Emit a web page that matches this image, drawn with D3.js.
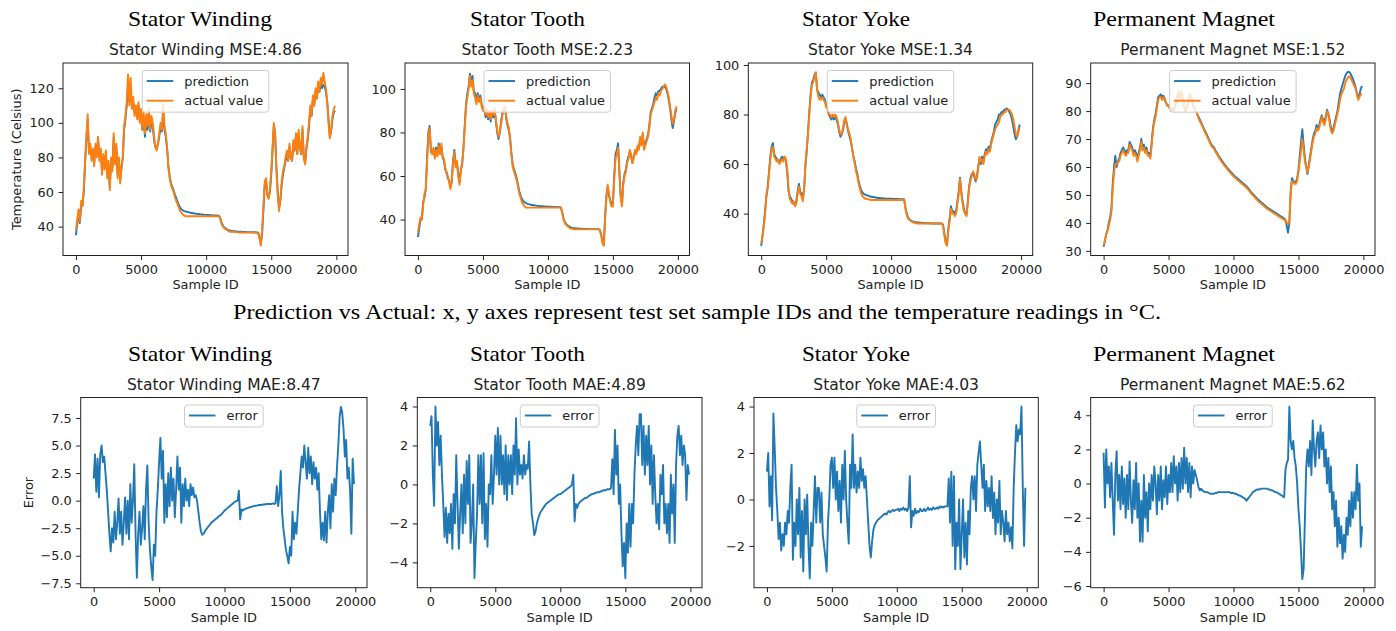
<!DOCTYPE html>
<html lang="en">
<head>
<meta charset="UTF-8">
<title>Prediction vs Actual</title>
<script src="https://cdn.jsdelivr.net/npm/d3@7"></script>
<style>
  body { margin: 0; background: #fff; }
  svg text { font-family: "DejaVu Sans", sans-serif; fill: #222; }
  svg text.serif { font-family: "Liberation Serif", serif; fill: #000; }
</style>
</head>
<body>
<svg id="chart" width="1396" height="631"></svg>
<script>
// sample IDs of the test set (one reading every 100 samples)
const sampleIds = d3.range(0, 20000, 100);
const xTicks = [0, 5000, 10000, 15000, 20000];

// Stator Winding
const swPred = [
  35, 42, 48, 42, 52, 52, 60, 76, 90, 102,
  84, 86, 80, 84, 77, 86, 82, 90, 80, 84,
  72, 80, 74, 82, 70, 76, 63, 78, 74, 92,
  78, 86, 70, 78, 67, 74, 80, 96, 102, 110,
  122, 112, 120, 110, 112, 106, 108, 104, 110, 102,
  104, 96, 102, 92, 100, 96, 104, 95, 100, 98,
  90, 86, 85, 88, 92, 98, 95, 106, 96, 92,
  85, 75, 69, 65, 63, 61, 58.5, 56.5, 54.5, 52.5,
  51, 50, 49.5, 49, 48.8, 48.6, 48.4, 48.2, 48, 47.8,
  47.7, 47.6, 47.5, 47.4, 47.3, 47.2, 47.1, 47, 46.9, 46.8,
  46.8, 46.7, 46.7, 46.6, 46.6, 46.5, 46.5, 46.5, 46.4, 46.4,
  46.2, 44.5, 42, 40.5, 39.5, 39, 38.5, 38, 37.8, 37.6,
  37.5, 37.4, 37.3, 37.2, 37.1, 37, 37, 37, 36.9, 36.9,
  36.9, 36.8, 36.8, 36.8, 36.8, 36.7, 36.7, 36.7, 36.7, 36.6,
  36.5, 34, 30, 36, 50, 64, 67, 58, 57, 60,
  70, 84, 99, 94, 74, 60, 51, 55, 64, 70,
  74, 78, 82, 78, 86, 80, 78, 88, 84, 92,
  82, 94, 86, 82, 96, 80, 77, 85, 90, 98,
  108, 104, 114, 110, 118, 114, 120, 118, 122, 120,
  122, 121, 118, 112, 102, 92, 95, 102, 106, 107
];
const swActual = [
  38, 44, 50, 43, 55, 52, 62, 78, 92, 105,
  82, 88, 78, 85, 75, 88, 80, 92, 78, 85,
  70, 82, 73, 84, 68, 78, 61, 80, 72, 94,
  76, 88, 68, 80, 65, 75, 80, 98, 104, 112,
  128, 110, 126, 108, 115, 104, 110, 102, 112, 100,
  108, 96, 106, 94, 105, 98, 108, 96, 104, 100,
  92, 86, 84, 88, 94, 100, 96, 111, 98, 94,
  86, 74, 68, 64, 62, 60, 57, 55, 53, 51,
  49, 48, 47, 46.5, 46, 46, 46, 46, 46, 46,
  46, 46, 46, 46, 46, 46, 46, 46, 46, 46,
  46, 46, 46, 46, 46, 46, 46, 46, 46, 46,
  46, 44, 41, 40, 39, 38.5, 38, 37.5, 37, 37,
  37, 37, 36.8, 36.8, 36.8, 36.6, 36.6, 36.6, 36.5, 36.5,
  36.5, 36.5, 36.5, 36.5, 36.5, 36.5, 36.5, 36.5, 36.5, 36.5,
  36, 33, 29, 38, 52, 66, 68, 58, 56, 62,
  72, 86, 100, 92, 72, 58, 49, 56, 66, 72,
  75, 80, 84, 78, 88, 80, 78, 90, 84, 94,
  82, 96, 86, 82, 98, 80, 76, 86, 92, 100,
  110, 104, 116, 110, 120, 114, 124, 118, 126, 122,
  129, 124, 120, 112, 100, 91, 96, 104, 108, 110
];

// Stator Tooth
const stPred = [
  32, 36, 40, 40, 48, 50, 54, 68, 80, 83,
  71, 71, 72, 69, 73, 70, 75, 71, 74, 69,
  67, 63, 62, 59, 58, 55, 57, 67, 72, 65,
  66, 61, 57, 63, 65, 73, 83, 93, 98, 101,
  107, 103, 106, 99, 98, 94, 98, 95, 97, 93,
  91, 91, 87, 90, 86, 89, 85, 89, 87, 90,
  85, 80, 77, 80, 85, 89, 91, 91, 86, 83,
  81, 77, 70, 65, 63, 61, 59, 56, 53, 51,
  49.5, 48.5, 48, 47.6, 47.3, 47.1, 47, 46.8, 46.7, 46.6,
  46.5, 46.4, 46.3, 46.2, 46.2, 46.1, 46.1, 46, 46, 46,
  45.9, 45.9, 45.9, 45.8, 45.8, 45.8, 45.8, 45.7, 45.7, 45.7,
  45.6, 43.5, 40.5, 39, 38, 37.4, 37, 36.6, 36.3, 36.1,
  36, 36, 35.9, 35.9, 35.8, 35.8, 35.8, 35.7, 35.7, 35.7,
  35.7, 35.7, 35.6, 35.6, 35.6, 35.6, 35.6, 35.6, 35.6, 35.6,
  35.2, 33, 30, 28.5, 41, 51, 55, 51, 49, 47,
  47, 60, 70, 72, 75, 62, 51, 47, 57, 61,
  63, 67, 69, 71, 69, 66, 69, 71, 71, 73,
  73, 77, 75, 79, 73, 75, 77, 79, 83, 89,
  91, 93, 96, 98, 97, 99, 99, 100, 101, 101,
  101, 100, 98, 95, 91, 86, 82, 85, 89, 91
];
const stActual = [
  34, 38, 41, 40, 46, 52, 53, 66, 78, 82,
  72, 70, 73, 68, 72, 69, 74, 70, 75, 68,
  68, 64, 61, 60, 57, 54, 58, 66, 71, 64,
  67, 60, 56, 62, 66, 72, 82, 92, 96, 100,
  106, 101, 104, 98, 96, 93, 97, 94, 96, 92,
  90, 92, 88, 91, 87, 90, 86, 90, 88, 91,
  86, 81, 78, 80, 84, 88, 90, 92, 87, 84,
  82, 76, 69, 64, 62, 60, 58, 55, 52, 50,
  48, 47, 46, 45.5, 45.5, 45.5, 45.5, 45.5, 45.5, 45.5,
  45.5, 45.5, 45.5, 45.5, 45.5, 45.5, 45.5, 45.5, 45.5, 45.5,
  45.5, 45.5, 45.5, 45.5, 45.5, 45.5, 45.5, 45.5, 45.5, 45.5,
  45.5, 43, 40, 38.5, 37.5, 37, 36.5, 36, 35.8, 35.6,
  35.5, 35.5, 35.5, 35.5, 35.5, 35.5, 35.5, 35.5, 35.5, 35.5,
  35.5, 35.5, 35.5, 35.5, 35.5, 35.5, 35.5, 35.5, 35.5, 35.5,
  35, 33, 29, 28, 40, 50, 56, 52, 48, 46,
  46, 58, 68, 70, 73, 62, 50, 46, 56, 60,
  62, 66, 68, 72, 70, 66, 68, 72, 70, 74,
  72, 78, 74, 80, 72, 74, 76, 78, 82, 88,
  90, 92, 94, 96, 95, 98, 97, 99, 100, 101,
  102, 101, 99, 96, 92, 88, 84, 86, 90, 92
];

// Stator Yoke
const syPred = [
  27, 31, 36, 41, 47, 51, 57, 63, 67, 68.5,
  64, 63, 62, 61, 61, 62, 63, 62, 63, 61,
  57, 49, 47, 46, 45, 44, 44, 45, 49, 52,
  49, 48, 46, 50, 59, 65, 73, 81, 88, 93,
  94, 96, 97, 90, 89, 88, 87, 88, 87, 86,
  84, 83, 80, 79, 78, 79, 78, 79, 78, 76,
  73, 71, 72, 74, 77, 78, 76, 73, 71, 69,
  66, 63, 61, 58, 56, 53, 51, 49.5, 48.5, 48,
  47.7, 47.5, 47.3, 47.1, 46.9, 46.8, 46.7, 46.6, 46.5, 46.4,
  46.3, 46.3, 46.2, 46.2, 46.1, 46.1, 46, 46, 46, 46,
  46, 46, 45.9, 45.9, 45.9, 45.9, 45.8, 45.8, 45.8, 45.8,
  45.8, 42.5, 40, 38.5, 37.8, 37.3, 37, 36.8, 36.6, 36.5,
  36.4, 36.4, 36.3, 36.3, 36.2, 36.2, 36.2, 36.1, 36.1, 36.1,
  36.1, 36, 36, 36, 36, 36, 36, 36, 36, 36,
  35.5, 32, 28.5, 27.5, 34, 38, 43, 41, 41, 40,
  41, 45, 49, 54.5, 49, 45, 42, 40, 39.5, 45,
  51, 54, 56, 56, 55, 53, 55, 59, 62, 60,
  63, 61, 64, 66, 65, 67, 66, 69, 71, 73,
  76, 77, 78, 80, 80, 81, 81, 82, 82, 82.5,
  82, 81, 80, 78, 75, 72, 70, 71, 74, 76
];
const syActual = [
  28, 31, 35, 40, 48, 50, 56, 62, 66, 67,
  63, 62, 61, 62, 60, 61, 62, 61, 63, 62,
  58, 50, 46, 45, 44, 45, 43, 44, 48, 51,
  48, 47, 45, 50, 60, 66, 72, 80, 87, 92,
  93, 95, 97, 90, 87, 86, 86, 87, 86, 85,
  83, 82, 80, 80, 79, 80, 79, 80, 79, 77,
  74, 72, 72, 75, 78, 79, 75, 74, 72, 70,
  66, 63, 60, 57, 55, 52, 50, 48, 47, 46.5,
  46, 46, 45.8, 45.7, 45.6, 45.5, 45.5, 45.5, 45.5, 45.5,
  45.5, 45.5, 45.5, 45.5, 45.5, 45.5, 45.5, 45.5, 45.5, 45.5,
  45.5, 45.5, 45.5, 45.5, 45.5, 45.5, 45.5, 45.5, 45.5, 45.5,
  45.5, 42, 39.5, 38, 37.5, 37, 36.8, 36.5, 36.3, 36.2,
  36, 36, 36, 36, 36, 36, 36, 36, 36, 36,
  36, 36, 36, 36, 36, 36, 36, 36, 36, 36,
  35, 31, 28, 27, 33, 37, 42, 40, 40, 39,
  40, 44, 48, 54, 48, 44, 41, 40, 39, 44,
  50, 53, 55, 57, 56, 54, 54, 58, 63, 61,
  62, 60, 63, 65, 64, 66, 65, 68, 70, 72,
  74, 75, 76, 77, 79, 80, 80, 81, 81, 82,
  82, 82, 81, 80, 78, 75, 72, 71, 73, 75
];

// Permanent Magnet
const pmPred = [
  31.5, 33.5, 36, 37.5, 40, 42, 45, 54, 60, 64,
  60, 62, 63, 65, 66, 67, 66, 65, 66, 66,
  69, 68, 67, 65, 66, 65, 63, 65, 67, 70,
  67, 68, 66, 67, 65, 65, 64, 69, 74, 77,
  79, 82, 85, 85.5, 86, 85, 85.5, 84.5, 83, 82,
  82, 81, 80, 81, 80, 82, 83, 85, 86, 84,
  86, 84, 82, 80, 81, 83, 85, 85.5, 84, 82,
  81, 80, 79, 78, 77, 76, 75, 74, 73, 72,
  71, 70, 69, 68, 67.5, 67, 66, 65.3, 64.5, 63.7,
  63, 62.3, 61.6, 61, 60.4, 59.8, 59.3, 58.7, 58.2, 57.7,
  57.2, 56.7, 56.3, 55.9, 55.5, 55.1, 54.7, 54.3, 53.9, 53.5,
  53.1, 52.6, 52, 51.4, 50.8, 50.3, 49.8, 49.3, 48.8, 48.3,
  47.9, 47.5, 47.1, 46.7, 46.3, 45.9, 45.5, 45.2, 44.9, 44.6,
  44.3, 44, 43.7, 43.4, 43.1, 42.8, 42.5, 42.2, 41.9, 41.6,
  41, 39, 36.5, 40, 51, 56, 55, 54.5, 54.5, 56,
  59, 64, 69, 73.5, 68, 63, 60, 57.5, 61, 64,
  67, 70, 72, 73, 75, 74, 75, 77, 78.5, 77,
  76, 78, 80.5, 79, 77, 74, 72.5, 74, 76, 78,
  80, 83, 86, 88, 89.5, 91, 92.5, 93.5, 94, 94,
  93.5, 92.5, 91.5, 90, 88.5, 86.5, 84.5, 86, 88, 89
];
const pmActual = [
  32, 34, 36, 37, 39, 41, 44, 52, 58, 61,
  61, 62, 62, 64, 65, 66, 65, 64, 65, 65,
  68, 67, 66, 64, 65, 64, 62, 64, 66, 69,
  66, 67, 65, 66, 64, 64, 63, 68, 73, 76,
  78, 81, 84, 85, 85, 84, 85, 84, 83, 82,
  82, 81, 80, 81, 80, 82, 84, 86, 87, 84,
  87, 84, 82, 80, 81, 83, 86, 86, 84, 82,
  81, 80, 79, 77.5, 76.5, 75.5, 74.5, 73.5, 72.5, 71.5,
  70.5, 69.5, 68.5, 67.5, 67, 66.5, 65.5, 64.8, 64, 63.2,
  62.5, 61.8, 61.1, 60.5, 59.9, 59.3, 58.8, 58.2, 57.7, 57.2,
  56.7, 56.2, 55.8, 55.4, 55, 54.6, 54.2, 53.8, 53.4, 53,
  52.6, 52.1, 51.5, 50.9, 50.3, 49.8, 49.3, 48.8, 48.3, 47.8,
  47.4, 47, 46.6, 46.2, 45.8, 45.4, 45, 44.7, 44.4, 44.1,
  43.8, 43.5, 43.2, 42.9, 42.6, 42.3, 42, 41.7, 41.4, 41.1,
  40.8, 40.2, 39.5, 40.5, 50, 55, 54.5, 54, 54, 55,
  58, 62, 66, 70, 66, 62, 60, 58, 60, 63,
  66, 69, 71, 72, 74, 73, 74, 76, 78, 76,
  75, 77, 80, 79, 76, 73, 72, 73, 75, 77,
  79, 81, 84, 86, 87, 88, 90, 91, 92, 92.5,
  92, 91, 90, 89, 88, 86, 84, 85, 86, 86
];

// errors
const swError = [
  2.0, 4.2, 0.8, 3.8, 0.3, 4.2, 5.0, 3.5, 4.0, 2.5,
  1.0, -1.0, -3.0, -4.6, -2.5, -3.8, -1.0, -3.5, -2.0, 0.2,
  -3.0, -1.0, -4.0, -2.0, 0.3, -3.0, 0.0, -3.5, 1.5, -2.0,
  0.0, 3.3, -3.0, -7.0, -3.0, -1.0, -4.0, -2.5, -0.5, -3.5,
  1.0, 3.2, -2.0, -4.5, -6.0, -7.2, -4.0, -5.0, -1.0, 1.0,
  3.5, 5.7, 2.0, 4.5, -2.0, 1.5, -1.5, 2.5, -0.5, 3.0,
  0.0, 2.0, -1.5, 1.0, 4.0, 1.0, 3.0, -2.0, 1.5, -0.5,
  2.0, 0.0, 1.0, -0.5, 1.5, 0.5, 1.2, 0.3, 0.5, 0.0,
  -1.0, -2.0, -2.8, -3.1, -3.0, -2.8, -2.6, -2.45, -2.3, -2.15,
  -2.0, -1.9, -1.8, -1.7, -1.6, -1.5, -1.4, -1.3, -1.2, -1.05,
  -0.9, -0.8, -0.7, -0.6, -0.5, -0.4, -0.3, -0.2, -0.1, -0.05,
  0.0, 0.9, -1.7, -0.8, -0.9, -0.8, -0.75, -0.7, -0.65, -0.6,
  -0.6, -0.55, -0.5, -0.5, -0.45, -0.45, -0.4, -0.4, -0.4, -0.35,
  -0.35, -0.35, -0.3, -0.3, -0.3, -0.3, -0.3, -0.25, -0.3, -0.25,
  1.3, -0.5, 0.5, 2.7, -1.0, -2.5, -3.5, -4.5, -5.0, -5.7,
  -4.2, -5.0, -1.0, -3.5, -2.0, -3.0, -1.0, 1.0, 2.5, 4.0,
  3.0, 5.0, 3.5, 2.0, 4.8, 2.5, 4.0, 1.5, 3.5, 2.0,
  3.0, 1.0, 2.5, -1.0, -3.5, -2.0, -3.6, -1.0, -3.8, -1.0,
  0.5, -2.5, 1.5, -1.0, 2.0, 0.5, 3.0, 5.0, 7.5, 8.5,
  8.0, 6.5, 4.0, 5.5, 2.0, 3.0, 1.0, -3.0, 3.8, 1.5
];
const stError = [
  3.0, 3.5, 0.5, -1.1, 4.0, 2.0, 3.2, 1.0, 2.5, 0.5,
  -1.0, -2.7, -1.2, -3.0, -1.5, -2.5, -1.0, -3.3, -0.5, -2.0,
  1.5, -1.0, -3.3, -1.5, 0.0, -2.5, 0.5, -2.0, 1.2, -1.0,
  1.5, -3.0, -2.0, 0.0, -4.8, -3.0, -1.5, 1.5, -1.0, 1.5,
  -2.0, 1.6, -2.8, -1.0, -3.2, 0.0, -0.5, 1.5, -1.0, 0.5,
  2.5, 0.5, 2.9, 0.0, 2.5, 0.0, 1.5, -0.5, 2.0, -0.8,
  1.5, 0.0, 1.5, -0.5, 2.0, 0.5, 3.4, 0.0, 1.8, 0.5,
  1.0, 0.3, 1.5, 0.5, 1.0, 0.8, 2.2, 0.0, -1.5, -2.0,
  -2.6, -2.4, -2.0, -1.75, -1.55, -1.4, -1.3, -1.2, -1.1, -1.0,
  -0.95, -0.9, -0.85, -0.8, -0.75, -0.7, -0.65, -0.6, -0.55, -0.5,
  -0.5, -0.45, -0.4, -0.35, -0.3, -0.25, -0.2, -0.15, -0.1, 0.0,
  0.5, -1.9, -1.0, -1.2, -1.0, -0.9, -0.85, -0.8, -0.75, -0.7,
  -0.7, -0.65, -0.6, -0.55, -0.5, -0.5, -0.45, -0.45, -0.4, -0.4,
  -0.4, -0.35, -0.35, -0.3, -0.3, -0.3, -0.25, -0.25, -0.25, -0.2,
  1.3, -0.5, 2.8, 0.5, 2.0, -1.0, 0.0, -2.5, -4.2, -3.0,
  -4.8, -2.0, -3.5, -1.0, -3.2, -1.0, -2.0, 0.5, 2.0, 3.0,
  1.5, 3.6, 3.6, 1.0, 3.0, 0.5, 2.5, 1.0, 3.0, 0.0,
  2.0, -1.0, 1.5, -0.5, -2.0, -1.0, -2.3, 0.5, -0.5, 1.0,
  -2.0, -1.0, -2.5, -1.0, -3.0, 0.5, -1.5, 0.0, -3.0, 1.0,
  2.5, 3.0, 1.5, 2.5, 1.0, 2.0, 1.5, -0.8, 1.0, 0.5
];
const syError = [
  1.2, 2.0, -0.3, 1.0, -0.9, 3.7, 2.2, 0.5, -0.5, -1.7,
  -1.0, -2.2, -1.5, -2.0, -1.0, -1.5, -0.5, -1.0, 0.5, 1.5,
  -2.6, -1.0, -2.0, 0.0, -1.5, 0.5, -2.5, -0.5, -3.1, 0.0,
  -1.5, 0.2, -2.0, -3.4, -1.0, -2.0, -0.5, 1.0, -1.0, 0.5,
  0.5, -1.0, 0.3, -1.5, -2.0, -2.5, -3.1, -1.0, 0.0, 1.5,
  1.8, 0.5, 1.8, 0.0, 1.2, -0.5, 0.8, -1.0, 1.5, 0.0,
  2.1, 0.0, -1.0, -1.9, 1.5, 0.5, 2.8, 0.5, 1.5, 0.3,
  1.2, 0.5, 1.8, 0.8, 1.3, 0.5, 1.0, 0.0, -1.0, -2.0,
  -2.5, -1.8, -1.3, -1.1, -1.0, -0.9, -0.85, -0.8, -0.75, -0.7,
  -0.65, -0.6, -0.65, -0.55, -0.5, -0.55, -0.5, -0.45, -0.5, -0.45,
  -0.45, -0.4, -0.5, -0.4, -0.45, -0.35, -0.45, -0.4, -0.5, -0.35,
  1.0, -1.2, -0.5, -0.7, -0.4, -0.6, -0.5, -0.55, -0.4, -0.5,
  -0.5, -0.4, -0.5, -0.45, -0.35, -0.45, -0.4, -0.45, -0.35, -0.4,
  -0.4, -0.35, -0.4, -0.3, -0.35, -0.3, -0.35, -0.3, -0.3, -0.3,
  0.9, -1.0, 1.2, -2.0, 1.0, -3.0, -1.0, -2.0, 0.0, -3.0,
  -1.5, 0.0, -2.5, -1.0, -2.8, -0.5, -1.5, 0.5, 1.0, 0.0,
  1.0, -0.5, 1.5, 2.0, 2.5, 1.5, 0.5, 1.5, -0.5, 0.8,
  -0.3, 0.5, -0.5, 1.0, -0.8, 0.3, -1.5, 0.0, -1.0, 0.8,
  -1.5, -0.5, -1.0, -1.8, -0.5, -1.5, -1.0, -1.8, -1.2, -2.1,
  0.5, 2.0, 3.2, 2.5, 3.0, 2.8, 4.0, 0.5, -2.0, 0.5
];
const pmError = [
  1.8, -1.4, 2.0, 0.0, 1.0, -0.8, 1.2, -1.0, -3.0, 0.5,
  1.9, -1.0, 0.5, -1.5, 1.0, -1.2, 0.3, -2.0, 0.5, -1.5,
  1.3, -1.0, -2.3, 0.2, -1.5, 1.2, -2.0, 0.0, -3.4, -1.0,
  -3.4, 0.5, -2.0, -0.5, -2.8, 0.0, -1.5, 0.5, -1.0, 1.0,
  0.0, -1.8, 0.5, -1.0, 1.0, -1.5, 0.2, -0.8, 1.0, -1.2,
  0.5, -0.5, 1.2, -0.5, 1.6, 0.0, 1.0, -1.0, 1.2, -0.5,
  1.5, -0.3, 2.1, 0.0, 1.5, -0.5, 1.2, -0.8, 1.0, 0.0,
  0.8, 0.5, 0.2, -0.2, -0.4, -0.3, -0.4, -0.45, -0.5, -0.5,
  -0.5, -0.55, -0.6, -0.6, -0.6, -0.6, -0.55, -0.55, -0.5, -0.5,
  -0.5, -0.5, -0.5, -0.5, -0.5, -0.5, -0.5, -0.5, -0.55, -0.55,
  -0.55, -0.6, -0.6, -0.65, -0.7, -0.7, -0.75, -0.8, -0.85, -0.9,
  -1.0, -0.9, -0.8, -0.7, -0.6, -0.5, -0.45, -0.4, -0.35, -0.35,
  -0.35, -0.3, -0.3, -0.3, -0.3, -0.3, -0.3, -0.35, -0.35, -0.4,
  -0.4, -0.45, -0.5, -0.5, -0.55, -0.6, -0.65, -0.7, -0.75, -0.8,
  0.8, 1.2, 1.4, 4.5, 2.5, 2.0, 2.5, 1.5, 1.0, 0.0,
  -1.5, -2.5, -4.0, -5.6, -5.0, -2.0, 1.0, 2.0, 1.0, 2.5,
  0.5, 3.7, 2.0, 1.0, 2.5, 3.0, 1.5, 3.4, 2.0, 3.0,
  1.0, 2.0, 0.0, 1.5, -0.5, 1.0, -1.5, -0.5, -2.5, -1.0,
  -3.7, -2.0, -3.5, -2.5, -4.4, -3.0, -4.0, -2.0, -3.0, -1.0,
  -2.5, -0.5, -2.0, -0.5, -1.5, 1.1, -1.0, 0.0, -3.7, -2.5
];

const parts = ["Stator Winding", "Stator Tooth", "Stator Yoke", "Permanent Magnet"];
const mseValues = ["4.86", "2.23", "1.34", "1.52"];
const maeValues = ["8.47", "4.89", "4.03", "5.62"];

const BLUE = "#1f77b4", ORANGE = "#ff7f0e";

const svg = d3.select("#chart");

// headers above each column
const headerX = [200, 527.5, 856, 1184];
const headerW = [144, 115, 108, 182];
[26, 361].forEach(y => {
    parts.forEach((p, i) => {
        svg.append("text").attr("class", "serif")
            .attr("x", headerX[i]).attr("y", y)
            .attr("text-anchor", "middle")
            .attr("font-size", 22)
            .attr("textLength", headerW[i]).attr("lengthAdjust", "spacingAndGlyphs")
            .text(p);
    });
});

svg.append("text").attr("class", "serif")
    .attr("x", 697).attr("y", 319)
    .attr("text-anchor", "middle")
    .attr("font-size", 21)
    .attr("textLength", 928).attr("lengthAdjust", "spacingAndGlyphs")
    .text("Prediction vs Actual: x, y axes represent test set sample IDs and the temperature readings in °C.");

const panels = [
    { x0: 63, x1: 348, y0: 63, y1: 255.5, dom: [23.3, 134.6], ticks: [40, 60, 80, 100, 120],
      title: parts[0] + " MSE:" + mseValues[0], ylabel: "Temperature (Celsius)",
      series: [{ v: swPred, c: BLUE, n: "prediction" }, { v: swActual, c: ORANGE, n: "actual value" }] },
    { x0: 405, x1: 689.5, y0: 63, y1: 255.5, dom: [23.5, 111.9], ticks: [40, 60, 80, 100],
      title: parts[1] + " MSE:" + mseValues[1],
      series: [{ v: stPred, c: BLUE, n: "prediction" }, { v: stActual, c: ORANGE, n: "actual value" }] },
    { x0: 748.3, x1: 1032.7, y0: 63, y1: 255.5, dom: [23.1, 100.8], ticks: [40, 60, 80, 100],
      title: parts[2] + " MSE:" + mseValues[2],
      series: [{ v: syPred, c: BLUE, n: "prediction" }, { v: syActual, c: ORANGE, n: "actual value" }] },
    { x0: 1090.7, x1: 1375, y0: 63, y1: 255.5, dom: [28.35, 97.2], ticks: [30, 40, 50, 60, 70, 80, 90],
      title: parts[3] + " MSE:" + mseValues[3],
      series: [{ v: pmPred, c: BLUE, n: "prediction" }, { v: pmActual, c: ORANGE, n: "actual value" }] },
    { x0: 80.7, x1: 367, y0: 397.5, y1: 587.7, dom: [-7.9, 9.36], ticks: [-7.5, -5, -2.5, 0, 2.5, 5, 7.5], fmt: ".1f",
      title: parts[0] + " MAE:" + maeValues[0], ylabel: "Error",
      series: [{ v: swError, c: BLUE, n: "error" }] },
    { x0: 417.3, x1: 702, y0: 397.5, y1: 587.7, dom: [-5.3, 4.46], ticks: [-4, -2, 0, 2, 4],
      title: parts[1] + " MAE:" + maeValues[1],
      series: [{ v: stError, c: BLUE, n: "error" }] },
    { x0: 754, x1: 1038.3, y0: 397.5, y1: 587.7, dom: [-3.8, 4.39], ticks: [-2, 0, 2, 4],
      title: parts[2] + " MAE:" + maeValues[2],
      series: [{ v: syError, c: BLUE, n: "error" }] },
    { x0: 1090.7, x1: 1375, y0: 397.5, y1: 587.7, dom: [-6.1, 5.04], ticks: [-6, -4, -2, 0, 2, 4, 6].slice(0, 6),
      title: parts[3] + " MAE:" + maeValues[3],
      series: [{ v: pmError, c: BLUE, n: "error" }] }
];

panels.forEach((p, k) => {
    const x = d3.scaleLinear().domain([-995, 20895]).range([p.x0, p.x1]);
    const y = d3.scaleLinear().domain(p.dom).range([p.y1, p.y0]);
    const g = svg.append("g");

    g.append("clipPath").attr("id", "clip" + k)
        .append("rect").attr("x", p.x0).attr("y", p.y0)
        .attr("width", p.x1 - p.x0).attr("height", p.y1 - p.y0);

    const line = d3.line().x((d, i) => x(sampleIds[i])).y(d => y(d));
    p.series.forEach(s => {
        g.append("path").datum(s.v)
            .attr("clip-path", "url(#clip" + k + ")")
            .attr("fill", "none").attr("stroke", s.c)
            .attr("stroke-width", 1.9).attr("stroke-linejoin", "round")
            .attr("d", line);
    });

    const xa = g.append("g").attr("transform", `translate(0,${p.y1})`)
        .call(d3.axisBottom(x).tickValues(xTicks).tickFormat(d3.format("d")).tickSize(4.5).tickPadding(4.5));
    const ya = g.append("g").attr("transform", `translate(${p.x0},0)`)
        .call(d3.axisLeft(y).tickValues(p.ticks).tickFormat(d3.format(p.fmt || "d")).tickSize(4.5).tickPadding(4.5));
    [xa, ya].forEach(a => {
        a.select(".domain").remove();
        a.selectAll("line").attr("stroke", "#222");
        a.selectAll("text").attr("font-size", 12.9).attr("font-family", null).style("fill", "#222");
    });

    g.append("rect").attr("x", p.x0).attr("y", p.y0)
        .attr("width", p.x1 - p.x0).attr("height", p.y1 - p.y0)
        .attr("fill", "none").attr("stroke", "#222").attr("stroke-width", 1);

    const cx = (p.x0 + p.x1) / 2;
    g.append("text").attr("x", cx).attr("y", p.y0 - 7.8)
        .attr("text-anchor", "middle").attr("font-size", 15.5).text(p.title);
    g.append("text").attr("x", cx).attr("y", p.y1 + 33.8)
        .attr("text-anchor", "middle").attr("font-size", 12.9).text("Sample ID");
    if (p.ylabel) {
        const lx = p.ylabel === "Error" ? 33 : 20.5;
        g.append("text")
            .attr("transform", `translate(${lx},${(p.y0 + p.y1) / 2}) rotate(-90)`)
            .attr("text-anchor", "middle").attr("font-size", 12.9).text(p.ylabel);
    }

    // legend, upper center
    const leg = g.append("g");
    const box = leg.append("rect");
    let maxW = 0;
    p.series.forEach((s, i) => {
        const ry = 10.5 + i * 19.7;
        leg.append("line").attr("x1", 4.5).attr("x2", 31).attr("y1", ry).attr("y2", ry)
            .attr("stroke", s.c).attr("stroke-width", 1.9);
        const t = leg.append("text").attr("x", 42).attr("y", ry).attr("dy", "0.35em")
            .attr("font-size", 12.9).text(s.n);
        maxW = Math.max(maxW, t.node().getComputedTextLength());
    });
    const bw = 42 + maxW + 5.5, bh = 22 + (p.series.length - 1) * 19.7;
    box.attr("width", bw).attr("height", bh).attr("rx", 3)
        .attr("fill", "#fff").attr("fill-opacity", 0.8)
        .attr("stroke", "#cccccc").attr("stroke-width", 1);
    leg.attr("transform", `translate(${cx - bw / 2},${p.y0 + 7.5})`);
});
</script>
</body>
</html>
